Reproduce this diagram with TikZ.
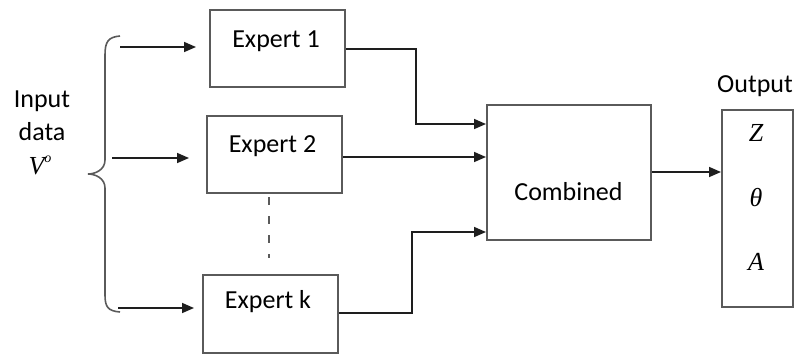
\documentclass[tikz,border=0pt]{standalone}
\usepackage{fontspec}
\setmainfont{Carlito}
\newfontfamily\symfont{Liberation Serif}
\usetikzlibrary{arrows.meta}
\definecolor{boxgray}{HTML}{5A5A5A}
\definecolor{linegray}{HTML}{1E1E1E}
\begin{document}
\begin{tikzpicture}[x=1pt,y=-1pt,
  box/.style={draw=boxgray,line width=2pt,minimum width=#1,inner sep=0pt,fill=none},
  lbl/.style={font=\fontsize{26}{30}\selectfont,anchor=base,inner sep=0pt},
  mth/.style={font=\symfont\itshape\fontsize{26}{30}\selectfont,inner sep=0pt},
  conn/.style={draw=linegray,line width=1.6pt,-{Triangle[length=12pt,width=10pt]}},
  brace/.style={draw=boxgray,line width=1.6pt}]
\useasboundingbox (0,0) rectangle (795,354);
% expert boxes
\node[box=135pt,minimum height=77pt] (e1) at (277.5,48.5) {};
\node[box=135pt,minimum height=77pt] (e2) at (274.5,154.5) {};
\node[box=135pt,minimum height=78pt] (ek) at (270.5,314) {};
\node[lbl] (t1) at (276,47) {Expert 1};
\node[lbl] (t2) at (272.5,152) {Expert 2};
\node[lbl] (tk) at (268,308) {Expert k};
% combined
\node[box=164pt,minimum height=135pt] (comb) at (569,172.5) {};
\node[lbl] (tc) at (568.5,200) {Combined};
% output
\node[box=71pt,minimum height=197pt] (out) at (757.5,208.5) {};
\node[lbl] (tout) at (755,92) {Output};
\node[mth,anchor=base] (z) at (756,141) {Z};
\node[mth,anchor=base] (th) at (756,206) {θ};
\node[mth,anchor=base] (a) at (756,270) {A};
% input label
\node[lbl] (tin1) at (42,107) {Input};
\node[lbl] (tin2) at (42,140) {data};
\node[mth,anchor=base] (v) at (40,174) {V\raisebox{0.45em}{\fontsize{14}{14}\selectfont o}};
% brace
\draw[brace] (120,36) .. controls (108,37) and (105,42) .. (105,55)
  -- (105,160) .. controls (105,170) and (95,174) .. (88,174)
  .. controls (95,174) and (105,178) .. (105,188)
  -- (105,295) .. controls (105,307) and (108,311) .. (120,312);
\coordinate (b1) at (120,47);
\coordinate (b2) at (112,158);
\coordinate (bk) at (118,308);
\draw[conn,shorten >=13pt] (b1) -- (b1 -| e1.west);
\draw[conn,shorten >=17pt] (b2) -- (b2 -| e2.west);
\draw[conn,shorten >=8pt] (bk) -- (bk -| ek.west);
% dashed
\coordinate (d1) at (269,197);
\coordinate (d2) at (269,258);
\draw[draw=boxgray,line width=1.6pt,dash pattern=on 8pt off 11pt] (d1) -- (d2);
% expert -> combined
\draw[conn] (e1.east |- 0,49) -| (416,124) -- (comb.west |- 0,124);
\draw[conn] (e2.east |- 0,157) -- (comb.west |- 0,157);
\draw[conn] (ek.east |- 0,313) -| (412,232) -- (comb.west |- 0,232);
% combined -> output
\draw[conn] (comb.east |- 0,172) -- (out.west |- 0,172);
\end{tikzpicture}
\end{document}
